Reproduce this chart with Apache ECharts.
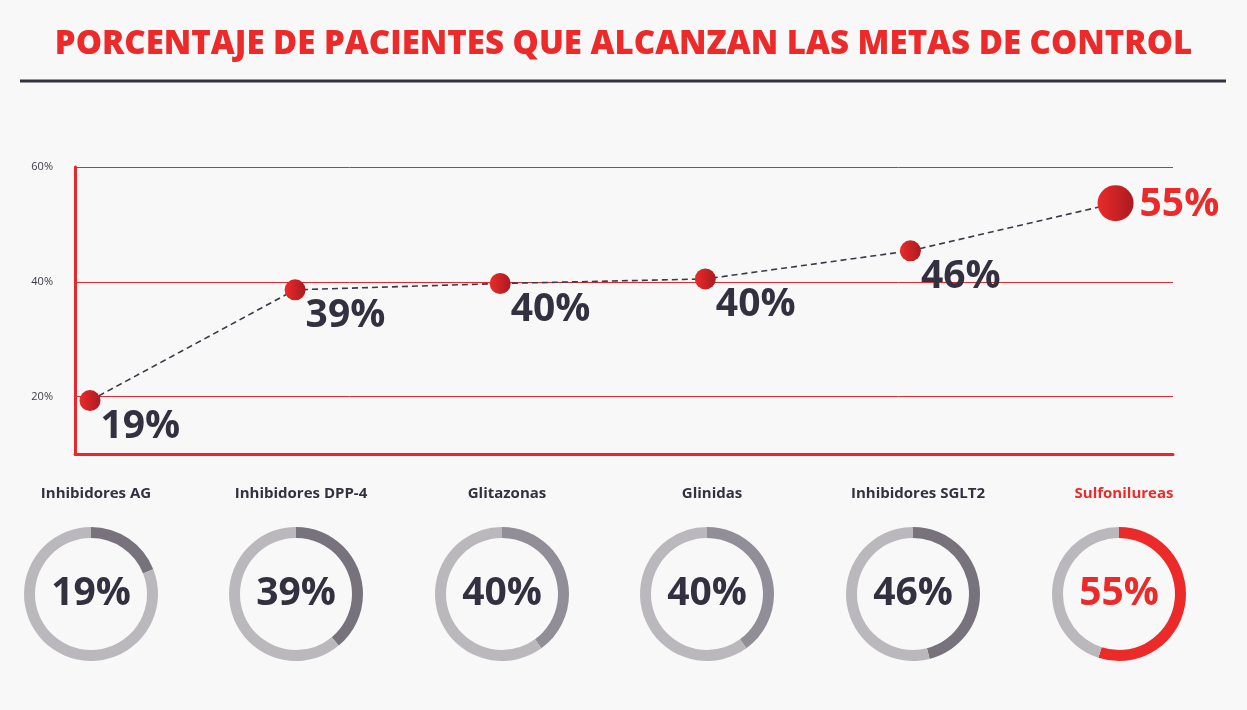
<!DOCTYPE html>
<html>
<head>
<meta charset="utf-8">
<script src="https://cdn.jsdelivr.net/npm/echarts@6/dist/echarts.min.js"></script>
<style>
  html, body { margin: 0; padding: 0; background: #f8f8f8; }
  #chart { width: 1247px; height: 710px; }
</style>
</head>
<body>
<div id="chart"></div>
<script>
const titulo = 'PORCENTAJE DE PACIENTES QUE ALCANZAN LAS METAS DE CONTROL';
const categorias = ['Inhibidores AG', 'Inhibidores DPP-4', 'Glitazonas', 'Glinidas', 'Inhibidores SGLT2', 'Sulfonilureas'];
// percentages printed on the chart
const porcentajes = [19, 39, 40, 40, 46, 55];
// where the dots sit against the y axis
const posiciones = [19.3, 38.6, 39.7, 40.5, 45.4, 53.7];
const yTicks = [10, 20, 30, 40, 50, 60];

const RED = '#ec2a2a';
const DARK = '#33313f';
const TRACK = '#bab8bc';
const arcColors = ['#77727c', '#77727c', '#928e98', '#928e98', '#77727c', RED];

const font = '"Open Sans", "Noto Sans", sans-serif';
const chart = echarts.init(document.getElementById('chart'));

const dotColor = new echarts.graphic.LinearGradient(0, 0, 1, 0, [
  { offset: 0, color: '#ec2a2a' },
  { offset: 1, color: '#a91b21' }
]);

const centersX = [91, 296, 502, 707, 913, 1119];
const last = porcentajes.length - 1;

const lineData = posiciones.map((v, i) => ({
  value: [i, v],
  symbolSize: i === last ? 36 : 21,
  label: i === last
    ? { position: 'right', distance: 6, offset: [0, 2], color: RED }
    : {}
}));

const donuts = porcentajes.map((p, i) => ({
  type: 'pie',
  silent: true,
  center: [centersX[i], 594],
  radius: [56, 67],
  startAngle: 90,
  clockwise: true,
  animation: false,
  label: { show: false },
  labelLine: { show: false },
  data: [
    {
      value: p,
      itemStyle: { color: arcColors[i] },
      label: {
        show: true,
        position: 'center',
        formatter: p + '%',
        fontFamily: font,
        fontWeight: 700,
        fontSize: 39,
        color: i === last ? RED : DARK
      }
    },
    { value: 100 - p, itemStyle: { color: TRACK } }
  ]
}));

const names = categorias.map((c, i) => ({
  text: c,
  left: centersX[i],
  top: 481,
  textAlign: 'center',
  textStyle: {
    fontFamily: font,
    fontWeight: 700,
    fontSize: 15,
    color: i === last ? RED : DARK
  }
}));

chart.setOption({
  backgroundColor: '#f8f8f8',
  animation: false,
  title: names,
  graphic: [
    {
      type: 'text',
      left: 'center',
      top: 28,
      style: {
        text: titulo,
        fontFamily: font,
        fontWeight: 800,
        fontSize: 33,
        fill: RED
      }
    },
    {
      type: 'line',
      shape: { x1: 20, y1: 81, x2: 1226, y2: 81 },
      style: { stroke: '#34323f', lineWidth: 3 }
    }
  ],
  grid: { left: 75, right: 74, top: 167, height: 287 },
  xAxis: {
    type: 'value',
    min: -0.073,
    max: 5.28,
    axisLine: { show: true, onZero: false, lineStyle: { color: '#e8262b', width: 3 } },
    axisTick: { show: false },
    axisLabel: { show: false },
    splitLine: { show: false }
  },
  yAxis: {
    type: 'value',
    min: yTicks[0],
    max: yTicks[yTicks.length - 1],
    interval: 10,
    axisLine: { show: true, onZero: false, lineStyle: { color: '#e8262b', width: 3 } },
    axisTick: { show: false },
    axisLabel: {
      margin: 22,
      fontFamily: font,
      fontSize: 11,
      color: '#3d3b47',
      formatter: v => (v % 20 === 0 ? v + '%' : '')
    },
    splitLine: {
      show: true,
      lineStyle: { color: ['transparent', '#e8262b'], width: 1 }
    }
  },
  series: [
    {
      type: 'line',
      data: lineData,
      symbol: 'circle',
      lineStyle: { color: '#3b3947', width: 1.6, type: [6, 4] },
      itemStyle: { color: dotColor },
      label: {
        show: true,
        position: 'right',
        distance: 0,
        offset: [0, 26],
        formatter: p => porcentajes[p.dataIndex] + '%',
        fontFamily: font,
        fontWeight: 700,
        fontSize: 39,
        color: DARK
      },
      z: 3
    },
    ...donuts
  ]
});
</script>
</body>
</html>
